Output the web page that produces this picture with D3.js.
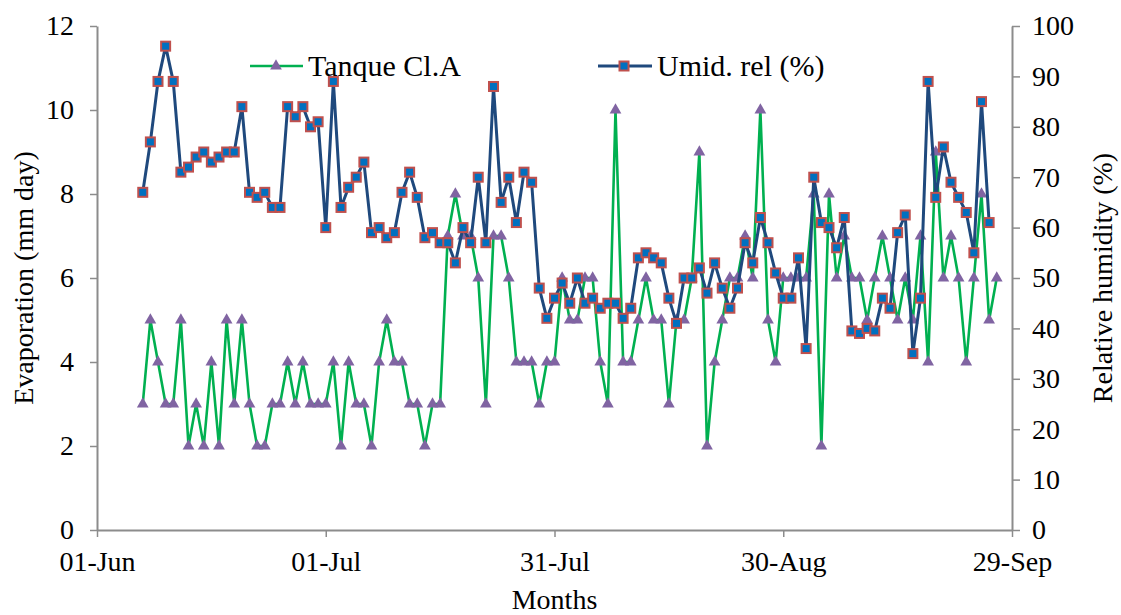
<!DOCTYPE html>
<html>
<head>
<meta charset="utf-8">
<script src="https://cdn.jsdelivr.net/npm/d3@7"></script>
</head>
<body style="margin:0">
<svg id="chart" width="1121" height="615"></svg>
<script>
// ---- data ----
const axisStart = "2015-06-01";
const axisEnd = "2015-09-29";
const firstObsDate = "2015-06-07"; // observations are daily from this date
const xTickLabels = ["01-Jun", "01-Jul", "31-Jul", "30-Aug", "29-Sep"];
const seriesNames = ["Tanque Cl.A", "Umid. rel (%)"];

// Evaporation, Class A pan (mm day) - left axis
const evaporation = [
  3,5,4,3,3,5,2,3,2,4,2,5,3,5,3,2,2,3,3,4,3,4,3,3,3,4,2,4,
  3,3,2,4,5,4,4,3,3,2,3,3,7,8,7,7,6,3,7,7,6,4,4,4,3,4,4,6,5,5,6,
  6,4,3,10,4,4,5,6,5,5,3,5,5,6,9,2,4,5,6,6,7,6,10,5,4,6,6,6,
  6,8,2,8,6,7,6,6,5,6,7,6,5,6,5,7,4,9,6,7,6,4,6,8,5,6
];
// Relative humidity (%) - right axis
const humidity = [
  67,77,89,96,89,71,72,74,75,73,74,75,75,84,67,66,67,64,64,84,82,84,80,81,60,89,64,
  68,70,73,59,60,58,59,67,71,66,58,59,57,57,53,60,57,70,57,88,65,70,61,71,69,48,
  42,46,49,45,50,45,46,44,45,45,42,44,54,55,54,53,46,41,50,50,52,47,53,48,44,48,57,53,62,57,51,46,46,54,
  36,70,61,60,56,62,39.5,39,40,39.5,46,44,59,62.5,35,46,89,66,76,69,66,63,55,85,61
];
const leftTicks = [0,2,4,6,8,10,12];
const rightTicks = [0,10,20,30,40,50,60,70,80,90,100];

// ---- layout ----
const svg = d3.select("#chart");
const L = 97, R = 1012, T = 26, B = 530;
const DAY = 24*3600*1000;
const t0 = new Date(axisStart + "T00:00:00Z");
const t1 = new Date(axisEnd + "T00:00:00Z");
const obs0 = new Date(firstObsDate + "T00:00:00Z");
const dateAt = i => new Date(obs0.getTime() + i*DAY);

const x = d3.scaleUtc().domain([t0, t1]).range([L, R]);
const yL = d3.scaleLinear().domain([0, 12]).range([B, T]);
const yR = d3.scaleLinear().domain([0, 100]).range([B, T]);
const xTickValues = xTickLabels.map((_, i) => new Date(t0.getTime() + i*30*DAY));

const axisColor = "#8c8c8c";
const fontSize = 28;
const FONT = "'Liberation Serif'";

// Axes
const gx = svg.append("g").attr("transform", `translate(0,${B})`)
  .call(d3.axisBottom(x).tickValues(xTickValues).tickFormat((d,i) => xTickLabels[i]).tickSize(7).tickPadding(14).tickSizeOuter(0));
const gl = svg.append("g").attr("transform", `translate(${L},0)`)
  .call(d3.axisLeft(yL).tickValues(leftTicks).tickFormat(d3.format("d")).tickSize(7).tickPadding(16).tickSizeOuter(0));
const gr = svg.append("g").attr("transform", `translate(${R},0)`)
  .call(d3.axisRight(yR).tickValues(rightTicks).tickFormat(d3.format("d")).tickSize(8).tickPadding(12).tickSizeOuter(0));
[gx, gl, gr].forEach(g => {
  g.attr("font-family", null).attr("font-size", null);
  g.selectAll(".domain").attr("stroke", axisColor).attr("stroke-width", 2);
  g.selectAll(".tick line").attr("stroke", axisColor).attr("stroke-width", 1.5);
  g.selectAll(".tick text").attr("fill", "#000").attr("font-size", fontSize)
    .style("font-family", FONT);
});

// Axis titles
function addText(sel) { return sel.style("font-family", FONT).attr("fill", "#000"); }
addText(svg.append("text")).attr("x", (L+R)/2).attr("y", 609).attr("text-anchor", "middle")
  .attr("font-size", fontSize).text("Months");
addText(svg.append("text")).attr("transform", `translate(33,${(T+B)/2}) rotate(-90)`).attr("text-anchor", "middle")
  .attr("font-size", fontSize).text("Evaporation (mm day)");
addText(svg.append("text")).attr("transform", `translate(1112,${(T+B)/2}) rotate(-90)`).attr("text-anchor", "middle")
  .attr("font-size", fontSize).text("Relative humidity (%)");

// Series styles
const greenLine = "#00B050", triFill = "#8064A2";
const blueLine = "#1F497D", sqFill = "#0070C0", sqStroke = "#C0504D";
const triPath = d3.symbol().type(d3.symbolTriangle).size(60)();

// Evaporation series
const evData = evaporation.map((v,i) => ({d: dateAt(i), v}));
svg.append("path").datum(evData)
  .attr("fill", "none").attr("stroke", greenLine).attr("stroke-width", 2.6).attr("stroke-linejoin", "round")
  .attr("d", d3.line().x(d => x(d.d)).y(d => yL(d.v)));
svg.append("g").selectAll("path").data(evData).join("path")
  .attr("d", triPath).attr("fill", triFill)
  .attr("transform", d => `translate(${x(d.d)},${yL(d.v)})`);

// Humidity series
const huData = humidity.map((v,i) => ({d: dateAt(i), v}));
svg.append("path").datum(huData)
  .attr("fill", "none").attr("stroke", blueLine).attr("stroke-width", 3).attr("stroke-linejoin", "round")
  .attr("d", d3.line().x(d => x(d.d)).y(d => yR(d.v)));
svg.append("g").selectAll("rect").data(huData).join("rect")
  .attr("x", d => x(d.d) - 4.5).attr("y", d => yR(d.v) - 4.5)
  .attr("width", 9).attr("height", 9)
  .attr("fill", sqFill).attr("stroke", sqStroke).attr("stroke-width", 2);

// Legend
const lg = svg.append("g");
const legY = 66;
lg.append("line").attr("x1", 250).attr("x2", 303).attr("y1", legY).attr("y2", legY)
  .attr("stroke", greenLine).attr("stroke-width", 2.6);
lg.append("path").attr("d", triPath).attr("fill", triFill).attr("transform", `translate(276,${legY})`);
addText(lg.append("text")).attr("x", 308).attr("y", legY + 10).attr("font-size", 30).text(seriesNames[0]);
lg.append("line").attr("x1", 598).attr("x2", 652).attr("y1", legY).attr("y2", legY)
  .attr("stroke", blueLine).attr("stroke-width", 3);
lg.append("rect").attr("x", 624-4.5).attr("y", legY-4.5).attr("width", 9).attr("height", 9)
  .attr("fill", sqFill).attr("stroke", sqStroke).attr("stroke-width", 2);
addText(lg.append("text")).attr("x", 657).attr("y", legY + 10).attr("font-size", 30).text(seriesNames[1]);
</script>
</body>
</html>
